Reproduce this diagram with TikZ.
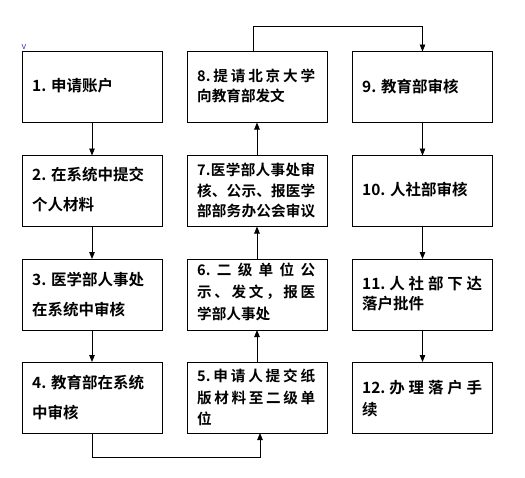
\documentclass[tikz,border=0pt]{standalone}
\usepackage{fontspec}
\setmainfont{Noto Sans CJK SC}[BoldFont={* Bold}]
\usetikzlibrary{arrows.meta}
\def\spr#1#2\relax{#1\ifx\relax#2\relax\else\hfill\spr#2\relax\fi}
\newcommand\jl[2]{\makebox[#1pt][s]{\spr#2\relax}}
\tikzset{
  box/.style={draw=black,line width=0.9pt,minimum width=140pt,minimum height=71pt,inner sep=0pt,outer sep=0pt},
  txtA/.style={anchor=west,inner sep=0pt,font=\bfseries\fontsize{15.5}{18}\selectfont,text height=0.88em,text depth=0.12em},
  txtB/.style={anchor=west,inner sep=0pt,font=\bfseries\fontsize{14.6}{18}\selectfont,text height=0.88em,text depth=0.12em},
  arr/.style={draw=black,line width=0.8pt,-{Triangle[width=5.5pt,length=7pt]}},
}
\begin{document}
\begin{tikzpicture}[x=1pt,y=-1pt]
\useasboundingbox[fill=white] (0,0) rectangle (525,477);
% boxes
\node[box] (b1) at (92,87) {};
\node[box] (b2) at (92,191) {};
\node[box] (b3) at (92,294.5) {};
\node[box] (b4) at (92,397.5) {};
\node[box] (b5) at (257,397.5) {};
\node[box] (b6) at (257,294.5) {};
\node[box] (b7) at (257,191) {};
\node[box] (b8) at (257,87) {};
\node[box] (b9) at (422.5,87) {};
\node[box] (b10) at (422.5,191) {};
\node[box] (b11) at (422.5,294.5) {};
\node[box] (b12) at (422.5,397.5) {};
% small mark
\node[inner sep=0pt,text=blue!55!gray,font=\fontsize{9}{10}\selectfont] (mk) at (24,47.5) {v};
% texts column 1
\node[txtA] (t1) at (32,88) {1. 申请账户};
\node[txtA] (t2a) at (32,177) {2. 在系统中提交};
\node[txtA] (t2b) at (32,207) {个人材料};
\node[txtA] (t3a) at (32,282) {3. 医学部人事处};
\node[txtA] (t3b) at (32,312) {在系统中审核};
\node[txtA] (t4a) at (32,385) {4. 教育部在系统};
\node[txtA] (t4b) at (32,415) {中审核};
% column 2
\node[txtB] (t5a) at (197,378) {\jl{118}{{5.}申请人提交纸}};
\node[txtB] (t5b) at (197,400) {\jl{118}{版材料至二级单}};
\node[txtB] (t5c) at (197,421) {位};
\node[txtB] (t6a) at (197,272) {\jl{118}{{6.}二级单位公}};
\node[txtB] (t6b) at (197,294) {\jl{118}{示、发文，报医}};
\node[txtB] (t6c) at (197,316) {学部人事处};
\node[txtB] (t7a) at (197,172) {\jl{118}{{7.}医学部人事处审}};
\node[txtB] (t7b) at (197,193) {\jl{118}{核、公示、报医学}};
\node[txtB] (t7c) at (197,213) {\jl{118}{部部务办公会审议}};
\node[txtB] (t8a) at (197,78) {\jl{118}{{8.}提请北京大学}};
\node[txtB] (t8b) at (197,98) {向教育部发文};
% column 3
\node[txtA] (t9) at (362,89) {9. 教育部审核};
\node[txtA] (t10) at (362,192) {10. 人社部审核};
\node[txtA] (t11a) at (362,286) {\jl{120}{{11.}人社部下达}};
\node[txtA] (t11b) at (362,306) {落户批件};
\node[txtA] (t12a) at (362,390) {\jl{120}{{12.}办理落户手}};
\node[txtA] (t12b) at (362,412) {续};
% connectors
\draw[arr] (b1) -- (b2);
\draw[arr] (b2) -- (b3);
\draw[arr] (b3) -- (b4);
\draw[arr] (b4.south) -- ++(0,24) -| ([xshift=3pt]b5.south);
\draw[arr] (b5) -- (b6);
\draw[arr] (b6) -- (b7);
\draw[arr] (b7) -- (b8);
\draw[arr] ([xshift=-4pt]b8.north) -- ++(0,-25) -| (b9.north);
\draw[arr] (b9) -- (b10);
\draw[arr] (b10) -- (b11);
\draw[arr] (b11) -- (b12);
\end{tikzpicture}
\end{document}
